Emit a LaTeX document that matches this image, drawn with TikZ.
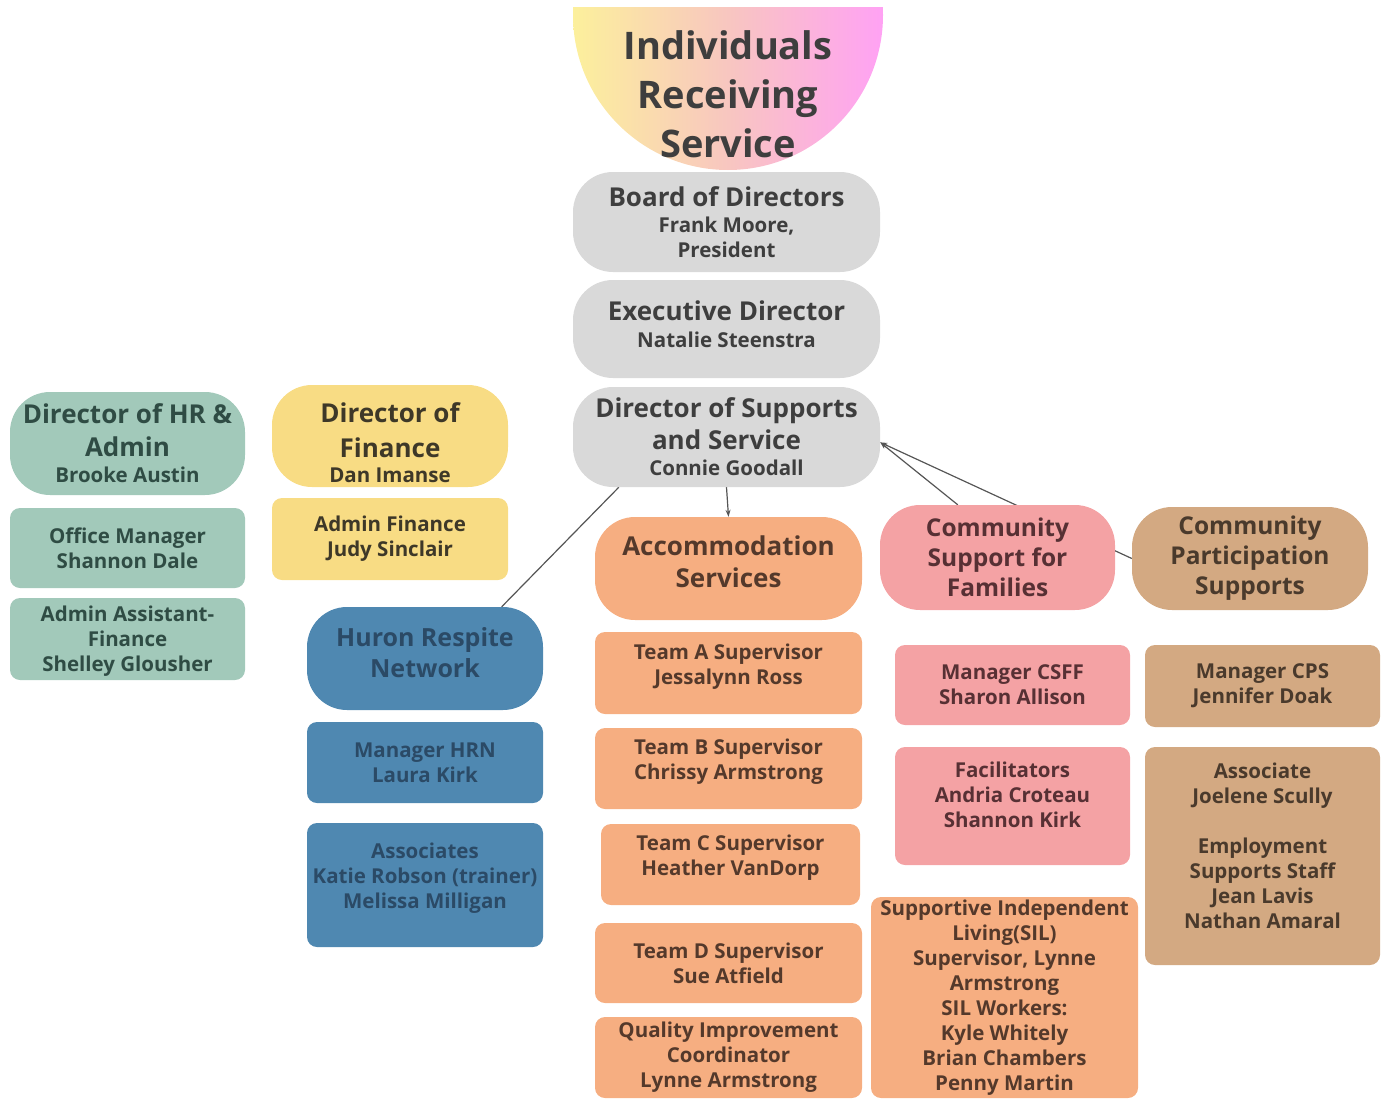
\documentclass[tikz,border=0pt]{standalone}
\usepackage{fontspec}
\setmainfont{Open Sans}
\usetikzlibrary{backgrounds,arrows.meta}
\definecolor{cgrey}{HTML}{D9D9D9}
\definecolor{cteal}{HTML}{A2C9BA}
\definecolor{cyell}{HTML}{F8DC84}
\definecolor{cblue}{HTML}{4F88B1}
\definecolor{corange}{HTML}{F6AE81}
\definecolor{cpink}{HTML}{F4A2A4}
\definecolor{ctan}{HTML}{D3A982}
\definecolor{tgrey}{HTML}{3E3E3E}
\definecolor{tteal}{HTML}{2F4C44}
\definecolor{tyell}{HTML}{3E3828}
\definecolor{tblue}{HTML}{2B4A66}
\definecolor{torange}{HTML}{54392B}
\definecolor{tpink}{HTML}{573034}
\definecolor{ttan}{HTML}{4A3A2C}
\definecolor{clink}{HTML}{555555}
\definecolor{gyel}{HTML}{FCF09C}
\definecolor{gmid}{HTML}{F8C6C0}
\definecolor{gpink}{HTML}{FFA2F4}
\newcommand\mysub{\fontsize{20.5}{24}\selectfont}
\begin{document}
\begin{tikzpicture}[x=1pt,y=-1pt,
  box/.style={draw=none, align=center, inner sep=0pt},
  pill/.style={box, rounded corners=40pt, font=\bfseries\fontsize{26}{32}\selectfont},
  card/.style={box, rounded corners=10pt, font=\bfseries\fontsize{20.5}{25}\selectfont},
  grey/.style={fill=cgrey, text=tgrey},
  teal/.style={fill=cteal, text=tteal},
  yell/.style={fill=cyell, text=tyell},
  blue/.style={fill=cblue, text=tblue},
  orange/.style={fill=corange, text=torange},
  pink/.style={fill=cpink, text=tpink},
  tan/.style={fill=ctan, text=ttan},
  link/.style={draw=clink, line width=1.2pt},
  tip/.style={-{Stealth[length=7pt,width=5pt]}}
]
\useasboundingbox (0,0) rectangle (1385,1100);

% top half disc
\begin{scope}
  \clip (560,7) rectangle (900,200);
  \shade[left color=gyel, right color=gpink, middle color=gmid] (728,15) circle[radius=155pt];
\end{scope}
\node[box, text=tgrey, font=\bfseries\fontsize{38}{49}\selectfont] (irs) at (728,94) {Individuals\\Receiving\\Service};

% centre column
\node[pill, grey, minimum width=307pt, minimum height=100pt] (board) at (726.5,222)
  {Board of Directors\\[-6pt]{\mysub Frank Moore,}\\[-7pt]{\mysub President}};
\node[pill, grey, minimum width=307pt, minimum height=98pt, text depth=9pt] (exec) at (726.5,329)
  {Executive Director\\[-5pt]{\mysub Natalie Steenstra}};
\node[pill, grey, minimum width=307pt, minimum height=100pt] (dss) at (726.5,437)
  {Director of Supports\\and Service\\[-6pt]{\mysub Connie Goodall}};

% HR
\node[pill, teal, minimum width=235pt, minimum height=103pt] (hr) at (127.5,443.5)
  {Director of HR \&\\[1pt]Admin\\[-6pt]{\mysub Brooke Austin}};
\node[card, teal, minimum width=235pt, minimum height=80pt] (office) at (127.5,548)
  {Office Manager\\Shannon Dale};
\node[card, teal, minimum width=235pt, minimum height=82pt, text depth=0pt] (aasst) at (127.5,639)
  {Admin Assistant-\\Finance\\Shelley Glousher};

% Finance
\node[pill, yell, minimum width=236pt, minimum height=102pt] (fin) at (390,436)
  {\mbox{}\\[2pt]Director of\\[3pt]Finance\\[-7pt]{\mysub Dan Imanse}};
\node[card, yell, minimum width=236pt, minimum height=82pt] (afin) at (390,539)
  {Admin Finance\\Judy Sinclair};

% Huron
\node[pill, blue, font=\bfseries\fontsize{25}{31}\selectfont, minimum width=236pt, minimum height=103pt, text depth=12pt] (huron) at (425,658.5)
  {Huron Respite\\Network};
\node[card, blue, minimum width=236pt, minimum height=81pt] (mhrn) at (425,762.5)
  {Manager HRN\\Laura Kirk};
\node[card, blue, minimum width=236pt, minimum height=124pt, text depth=18pt] (assoc) at (425,885)
  {Associates\\Katie Robson (trainer)\\Melissa Milligan};

% Accommodation
\node[pill, orange, minimum width=267pt, minimum height=103pt, text depth=14pt] (accom) at (728.5,568.5)
  {Accommodation\\Services};
\node[card, orange, minimum width=267pt, minimum height=82pt, text depth=18pt] (teama) at (728.5,673)
  {Team A Supervisor\\Jessalynn Ross};
\node[card, orange, minimum width=267pt, minimum height=81pt, text depth=18pt] (teamb) at (728.5,768.5)
  {Team B Supervisor\\Chrissy Armstrong};
\node[card, orange, minimum width=259pt, minimum height=81pt, text depth=18pt] (teamc) at (730.5,864.5)
  {Team C Supervisor\\Heather VanDorp};
\node[card, orange, minimum width=267pt, minimum height=80pt] (teamd) at (728.5,963)
  {Team D Supervisor\\Sue Atfield};
\node[card, orange, minimum width=267pt, minimum height=81pt] (qi) at (728.5,1057.5)
  {Quality Improvement\\Coordinator\\Lynne Armstrong};

% CSF
\node[pill, pink, font=\bfseries\fontsize{24.5}{30}\selectfont, minimum width=235pt, minimum height=105pt] (csf) at (997.5,557.5)
  {Community\\Support for\\Families};
\node[card, pink, minimum width=235pt, minimum height=80pt] (mcsff) at (1012.5,685)
  {Manager CSFF\\Sharon Allison};
\node[card, pink, minimum width=235pt, minimum height=118pt, text depth=22pt] (facil) at (1012.5,806)
  {Facilitators\\Andria Croteau\\Shannon Kirk};
\node[card, orange, minimum width=267pt, minimum height=201pt] (sil) at (1004.5,997.5)
  {Supportive Independent\\Living(SIL)\\Supervisor, Lynne\\Armstrong\\SIL Workers:\\Kyle Whitely\\Brian Chambers\\Penny Martin};

% CPS
\node[pill, tan, font=\bfseries\fontsize{24.5}{30}\selectfont, minimum width=236pt, minimum height=103pt] (cps) at (1250,558.5)
  {Community\\Participation\\Supports};
\node[card, tan, minimum width=235pt, minimum height=82pt] (mcps) at (1262.5,686)
  {Manager CPS\\Jennifer Doak};
\node[card, tan, minimum width=235pt, minimum height=218pt, text depth=20pt] (acps) at (1262.5,856)
  {Associate\\Joelene Scully\\[25pt]Employment\\Supports Staff\\Jean Lavis\\Nathan Amaral};

% connectors
\begin{scope}[on background layer]
  \draw[link, tip] (dss.south) -- (accom.north);
  \draw[link] (dss.205) -- (huron.34.5);
  \draw[link, tip] (csf.127) -- (dss.-2);
  \draw[link, tip] (cps.west) -- (dss.-2);
\end{scope}
\end{tikzpicture}
\end{document}
